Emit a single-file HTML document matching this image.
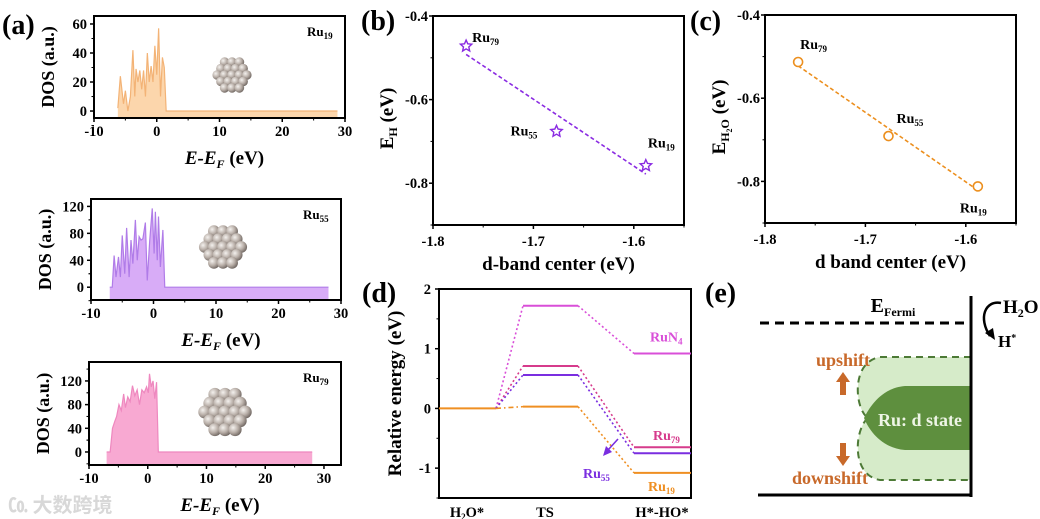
<!DOCTYPE html>
<html><head><meta charset="utf-8"><style>
html,body{margin:0;padding:0;background:#fff}
svg{display:block;font-family:"Liberation Serif","Noto Serif CJK SC",serif;font-weight:bold}
</style></head><body>
<svg id="fig" width="1040" height="519" viewBox="0 0 1040 519" xmlns="http://www.w3.org/2000/svg">
<defs>
<radialGradient id="ball" cx="0.35" cy="0.35" r="0.7">
<stop offset="0" stop-color="#f4f1ee"/><stop offset="0.55" stop-color="#b7ada6"/><stop offset="1" stop-color="#6e6560"/>
</radialGradient>
</defs>
<text x="2" y="34" font-size="28">(a)</text>
<text x="361" y="30" font-size="28">(b)</text>
<text x="690" y="30" font-size="28">(c)</text>
<text x="362" y="302" font-size="28">(d)</text>
<text x="705" y="302" font-size="28">(e)</text>
<text x="8" y="512" font-size="20" fill="#d8d8d8" font-family="'Noto Sans CJK SC',sans-serif">㏇ 大数跨境</text>
<g id="panelE">
<path d="M971,357 L880,357 C850,362 855,410 868,418 C855,428 850,475 880,480 L971,480 Z" fill="#d6ebc9" stroke="none"/>
<path d="M971,357 L880,357 C850,362 855,410 868,418 M868,418 C855,428 850,475 880,480 L971,480" fill="none" stroke="#4d7a36" stroke-width="2" stroke-dasharray="7,5"/>
<path d="M971,386 L905,386 C880,388 868,410 864,418 C868,428 880,448 905,450 L971,450 Z" fill="#5e8f3e"/>
<text x="920" y="426" font-size="18" fill="#eef5e6" text-anchor="middle">Ru: d state</text>
<line x1="760" y1="323" x2="971" y2="323" stroke="#000" stroke-width="3" stroke-dasharray="9,6"/>
<line x1="971" y1="296" x2="971" y2="497" stroke="#000" stroke-width="3"/>
<line x1="758" y1="495" x2="971" y2="495" stroke="#000" stroke-width="3"/>
<text x="893" y="312" font-size="20" text-anchor="middle">E<tspan font-size="12" dy="4">Fermi</tspan></text>
<text x="1003" y="313" font-size="19">H<tspan font-size="12" dy="4">2</tspan><tspan dy="-4">O</tspan></text>
<text x="998" y="347" font-size="17">H<tspan font-size="10" dy="-6">*</tspan></text>
<path d="M1001,303 C985,300 978,318 990,336" fill="none" stroke="#000" stroke-width="2.5"/>
<path d="M985,333 L995,340 L993,328 Z" fill="#000"/>
<text x="843" y="366" font-size="18" fill="#c8692a" text-anchor="middle">upshift</text>
<path d="M840,395 L840,382 L836,382 L843,372 L850,382 L846,382 L846,395 Z" fill="#c8692a"/>
<path d="M840,443 L840,456 L836,456 L843,466 L850,456 L846,456 L846,443 Z" fill="#c8692a"/>
<text x="830" y="484" font-size="18" fill="#c8692a" text-anchor="middle">downshift</text>
</g>
<g id="plots"></g>
</svg>
<script>
// ---- DOS data ----
const ru19E = [-6.2,-5.8,-5.3,-5.0,-4.6,-4.2,-3.8,-3.5,-3.3,-3.0,-2.7,-2.4,-2.1,-1.8,-1.5,-1.2,-0.9,-0.6,-0.3,0.0,0.3,0.6,0.9,1.2,1.5,2.0,28.8];
const ru19D = [2,24,5,14,0,10,42,10,29,20,28,15,28,10,40,20,31,20,45,25,57,10,37,30,0,0,0];
const ru55E = [-7.0,-6.6,-6.3,-6.0,-5.6,-5.3,-5.0,-4.6,-4.3,-3.9,-3.6,-3.3,-2.9,-2.6,-2.3,-2.0,-1.7,-1.3,-1.0,-0.6,-0.2,0.1,0.3,0.6,0.8,1.1,1.5,1.8,2.1,28.0];
const ru55D = [0,0,47,15,45,15,77,20,88,15,70,35,100,40,75,70,72,96,10,70,117,50,112,40,105,30,85,0,0,0];
const ru79E = [-7.0,-6.4,-6.0,-5.6,-5.3,-4.9,-4.5,-4.1,-3.8,-3.4,-3.0,-2.6,-2.2,-1.8,-1.4,-1.0,-0.6,-0.2,0.1,0.3,0.6,0.9,1.2,1.5,1.8,28.0];
const ru79D = [0,0,40,52,60,80,70,98,75,93,85,112,95,105,80,105,100,110,100,132,110,120,90,118,0,0];
const dosXTicks = [-10,0,10,20,30];
const dos19YTicks = [0,20,40,60];
const dos55YTicks = [0,40,80,120];
const dos79YTicks = [0,40,80,120];
// ---- d-band data ----
const dbandTicks = [-1.8,-1.7,-1.6];
const eTicks = [-0.4,-0.6,-0.8];
const clusterNames = ["79","55","19"];
const dCenterB = [-1.767,-1.677,-1.588];
const eH = [-0.472,-0.676,-0.758];
const dCenterC = [-1.767,-1.677,-1.588];
const eH2O = [-0.513,-0.691,-0.812];
// ---- energy profile ----
const stepNames = ["H\u2082O*","TS","H*-HO*"];
const pathNames = ["RuN4","Ru79","Ru55","Ru19"];
const tsEnergy = [1.72,0.71,0.56,0.03];
const finalEnergy = [0.92,-0.65,-0.75,-1.08];
const relTicks = [2,1,0,-1];

const NS="http://www.w3.org/2000/svg";
const root=document.getElementById('plots');
function el(tag,attrs,parent){const e=document.createElementNS(NS,tag);for(const k in attrs)e.setAttribute(k,attrs[k]);(parent||root).appendChild(e);return e;}
function lin(d0,d1,r0,r1){return v=>r0+(v-d0)*(r1-r0)/(d1-d0);}
function frame(g,L,T,R,B){el('rect',{x:L,y:T,width:R-L,height:B-T,fill:'none',stroke:'#000','stroke-width':2},g);}

function dosPanel(name,E,D,yT,box,yd,xmax,fill,line,clx,cly,clr,label){
  const g=el('g',{});
  
  
  const [L,T,R,B]=box;
  const sx=lin(-10,xmax,L,R), sy=lin(yd[0],yd[1],B,T);
  let p='M'+sx(E[0])+','+B;
  let q='';
  E.forEach((e,i)=>{p+=' L'+sx(e)+','+sy(D[i]);q+=(i?' L':'M')+sx(e)+','+sy(D[i]);});
  p+=' L'+sx(E[E.length-1])+','+B+' Z';
  const a=el('path',{d:p,fill:fill},g);
  
  
  const l=el('path',{d:q,fill:'none',stroke:line,'stroke-width':1.2},g);
  
  
  frame(g,L,T,R,B);
  dosXTicks.forEach(v=>{const x=sx(v);el('line',{x1:x,y1:B,x2:x,y2:B+4,stroke:'#000','stroke-width':1.5},g);
    if(v+5<xmax)el('line',{x1:sx(v+5),y1:B,x2:sx(v+5),y2:B+2.5,stroke:'#000','stroke-width':1},g);
    const t=el('text',{x:x,y:B+18,'font-size':14.5,'text-anchor':'middle'},g);t.textContent=v;
    
    });
  const st=yT[1]-yT[0];
  yT.forEach(v=>{const y=sy(v);el('line',{x1:L-4,y1:y,x2:L,y2:y,stroke:'#000','stroke-width':1.5},g);
    if(sy(v+st/2)>T)el('line',{x1:L-2.5,y1:sy(v+st/2),x2:L,y2:sy(v+st/2),stroke:'#000','stroke-width':1},g);
    el('line',{x1:L-2.5,y1:sy(v-st/2),x2:L,y2:sy(v-st/2),stroke:'#000','stroke-width':1},g);
    const t=el('text',{x:L-7,y:y+5,'font-size':14.5,'text-anchor':'end'},g);t.textContent=v;
    
    });
  const yt=el('text',{x:0,y:0,'font-size':18,'text-anchor':'middle',transform:`translate(${L-40},${(T+B)/2}) rotate(-90)`},g);
  yt.textContent='DOS (a.u.)';
  
  
  const xt=el('text',{x:(L+R)/2+5,y:B+46,'font-size':19,'text-anchor':'middle'},g);
  
  
  let s=el('tspan',{'font-style':'italic'},xt);s.textContent='E-E';
  s=el('tspan',{'font-style':'italic','font-size':12,dy:4},xt);s.textContent='F';
  s=el('tspan',{dy:-4},xt);s.textContent=' (eV)';
  const lt=el('text',{x:R-38,y:T+20,'font-size':13},g);
  
  
  s=el('tspan',{},lt);s.textContent='Ru';s=el('tspan',{'font-size':9,dy:3},lt);s.textContent=label;
  const cg=el('g',{},g);
  
  
  const r=clr/4.6, pts=[];
  for(let j=-6;j<=6;j++)for(let i=-7;i<=7;i++){const x=i*r*1.55+(j%2?r*0.78:0),y=j*r*1.35;if(x*x+y*y<=(clr-r)*(clr-r)*1.05)pts.push([x,y]);}
  pts.sort((a,b)=>(a[1]+a[0]*0.3)-(b[1]+b[0]*0.3));
  pts.forEach(([x,y])=>el('circle',{cx:clx+x,cy:cly+y,r:r,fill:'url(#ball)'},cg));
}
dosPanel('dos-ru19',ru19E,ru19D,dos19YTicks,[94,16,345,118],[-4.8,65.5],30,'#fcd6ac','#f3b376',232,75,22,'19');
dosPanel('dos-ru55',ru55E,ru55D,dos55YTicks,[91,199,341,300],[-19,131],30,'#d8acf7','#b07ce8',223,247,27,'55');
dosPanel('dos-ru79',ru79E,ru79D,dos79YTicks,[89,362,341,465],[-22,152],32.9,'#f8a9d2','#ee88bf',225,412,30,'79');

function scatterPanel(name,box,xd,yd,X,Y,color,marker,ytitle,xtitle,lblOff){
  const g=el('g',{});
  
  
  const [L,T,R,B]=box;const sx=lin(xd[0],xd[1],L,R),sy=lin(yd[0],yd[1],B,T);
  frame(g,L,T,R,B);
  dbandTicks.forEach(v=>{const x=sx(v);el('line',{x1:x,y1:B,x2:x,y2:B+4,stroke:'#000','stroke-width':1.5},g);
    el('line',{x1:sx(v+0.05),y1:B,x2:sx(v+0.05),y2:B+2.5,stroke:'#000','stroke-width':1},g);
    const t=el('text',{x:x,y:B+21,'font-size':14.5,'text-anchor':'middle'},g);t.textContent=v.toFixed(1);
    
    });
  eTicks.forEach(v=>{const y=sy(v);el('line',{x1:L-4,y1:y,x2:L,y2:y,stroke:'#000','stroke-width':1.5},g);
    el('line',{x1:L-2.5,y1:sy(v-0.1),x2:L,y2:sy(v-0.1),stroke:'#000','stroke-width':1},g);
    const t=el('text',{x:L-5,y:y+5,'font-size':14.5,'text-anchor':'end'},g);t.textContent=v.toFixed(1);
    
    });
  const n=X.length,mx=X.reduce((a,b)=>a+b)/n,my=Y.reduce((a,b)=>a+b)/n;
  let sxy=0,sxx=0;X.forEach((x,i)=>{sxy+=(x-mx)*(Y[i]-my);sxx+=(x-mx)*(x-mx);});
  const k=sxy/sxx,x0=Math.min(...X),x1=Math.max(...X);
  const fl=el('line',{x1:sx(x0),y1:sy(my+k*(x0-mx)),x2:sx(x1),y2:sy(my+k*(x1-mx)),stroke:color,'stroke-width':1.6,'stroke-dasharray':'4,2.5'},g);
  
  
  X.forEach((x,i)=>{const cx=sx(x),cy=sy(Y[i]);let m;
    if(marker==='star'){let d='';for(let j=0;j<10;j++){const a=-Math.PI/2+j*Math.PI/5,rr=j%2?2.8:6;d+=(j?'L':'M')+(cx+rr*Math.cos(a)).toFixed(1)+','+(cy+rr*Math.sin(a)).toFixed(1);}m=el('path',{d:d+'Z',fill:'#fff',stroke:color,'stroke-width':1.4},g);}
    else m=el('circle',{cx:cx,cy:cy,r:4.5,fill:'#fff',stroke:color,'stroke-width':1.6},g);
    
    
    const t=el('text',{x:cx+lblOff[i][0],y:cy+lblOff[i][1],'font-size':14},g);
    
    
    let s=el('tspan',{},t);s.textContent='Ru';s=el('tspan',{'font-size':9,dy:3},t);s.textContent=clusterNames[i];});
  const xt=el('text',{x:(L+R)/2,y:B+45,'font-size':19,'text-anchor':'middle'},g);xt.textContent=xtitle;
  
  
  const yt=el('text',{x:0,y:0,'font-size':19,'text-anchor':'middle',transform:`translate(${L-40},${(T+B)/2-2}) rotate(-90)`},g);
  
  
  let s=el('tspan',{},yt);s.textContent='E';
  if(ytitle==='H'){s=el('tspan',{'font-size':12,dy:4},yt);s.textContent='H';}
  else{s=el('tspan',{'font-size':12,dy:4},yt);s.textContent='H';s=el('tspan',{'font-size':8,dy:3},yt);s.textContent='2';s=el('tspan',{'font-size':12,dy:-3},yt);s.textContent='O';}
  s=el('tspan',{dy:-4},yt);s.textContent=' (eV)';
}
scatterPanel('panel-b-eh-vs-dband',[433,16,684,225],[-1.8,-1.55],[-0.9,-0.4],dCenterB,eH,'#8a2be2','star','H','d-band center (eV)',[[6,-4],[-46,4],[2,-18]]);
scatterPanel('panel-c-eh2o-vs-dband',[765,15,1016,223],[-1.8,-1.55],[-0.9,-0.4],dCenterC,eH2O,'#ec8f1e','circle','H2O','d band center (eV)',[[2,-13],[8,-13],[-18,26]]);

(function(){
  const g=el('g',{});
  
  
  const L=439,T=289,R=691,B=498;const sy=lin(-1.5,2,B,T);
  frame(g,L,T,R,B);
  relTicks.forEach(v=>{const y=sy(v);el('line',{x1:L-4,y1:y,x2:L,y2:y,stroke:'#000','stroke-width':1.5},g);
    el('line',{x1:L-2.5,y1:sy(v-0.5),x2:L,y2:sy(v-0.5),stroke:'#000','stroke-width':1},g);
    const t=el('text',{x:L-8,y:y+5,'font-size':14.5,'text-anchor':'end'},g);t.textContent=v;
    
    });
  const cx=[467,545,662];
  stepNames.forEach((n,i)=>{const t=el('text',{x:cx[i],y:B+19,'font-size':14.5,'text-anchor':'middle'},g);
    
    
    if(i===0){let s=el('tspan',{},t);s.textContent='H';s=el('tspan',{'font-size':9,dy:3},t);s.textContent='2';s=el('tspan',{dy:-3},t);s.textContent='O*';}
    else t.textContent=n;});
  const yt=el('text',{x:0,y:0,'font-size':19,'text-anchor':'middle',transform:`translate(401,${(T+B)/2}) rotate(-90)`},g);
  yt.textContent='Relative energy (eV)';
  
  
  const colors=['#d94fd8','#d63b8c','#7a2ee0','#ef8f22'];
  const seg=[[439,496],[523,578],[634,691]];
  const lv=el('line',{x1:seg[0][0],y1:sy(0),x2:seg[0][1],y2:sy(0),stroke:'#ef8f22','stroke-width':2},g);
  
  
  pathNames.forEach((n,i)=>{const c=colors[i],dash=i===3?'5,3,1.5,3':'2,2.5';
    el('line',{x1:seg[0][1],y1:sy(0),x2:seg[1][0],y2:sy(tsEnergy[i]),stroke:c,'stroke-width':1.6,'stroke-dasharray':dash},g);
    const a=el('line',{x1:seg[1][0],y1:sy(tsEnergy[i]),x2:seg[1][1],y2:sy(tsEnergy[i]),stroke:c,'stroke-width':2},g);
    
    
    el('line',{x1:seg[1][1],y1:sy(tsEnergy[i]),x2:seg[2][0],y2:sy(finalEnergy[i]),stroke:c,'stroke-width':1.6,'stroke-dasharray':'2,2.5'},g);
    const b=el('line',{x1:seg[2][0],y1:sy(finalEnergy[i]),x2:seg[2][1],y2:sy(finalEnergy[i]),stroke:c,'stroke-width':2},g);
    
    });
  const lab=[[650,sy(finalEnergy[0])-12,'N','4'],[653,sy(finalEnergy[1])-7,'','79'],[583,sy(finalEnergy[2])+25,'','55'],[648,sy(finalEnergy[3])+18,'','19']];
  lab.forEach((p,i)=>{const t=el('text',{x:p[0],y:p[1],'font-size':14,fill:colors[i]},g);
    
    
    let s=el('tspan',{},t);s.textContent='Ru'+p[2];s=el('tspan',{'font-size':9,dy:3},t);s.textContent=p[3];});
  el('line',{x1:618,y1:439,x2:608,y2:450,stroke:'#7a2ee0','stroke-width':1.6},g);
  el('path',{d:'M603,456 L606,446 L612,452 Z',fill:'#7a2ee0'},g);
})();
</script>
</body></html>
